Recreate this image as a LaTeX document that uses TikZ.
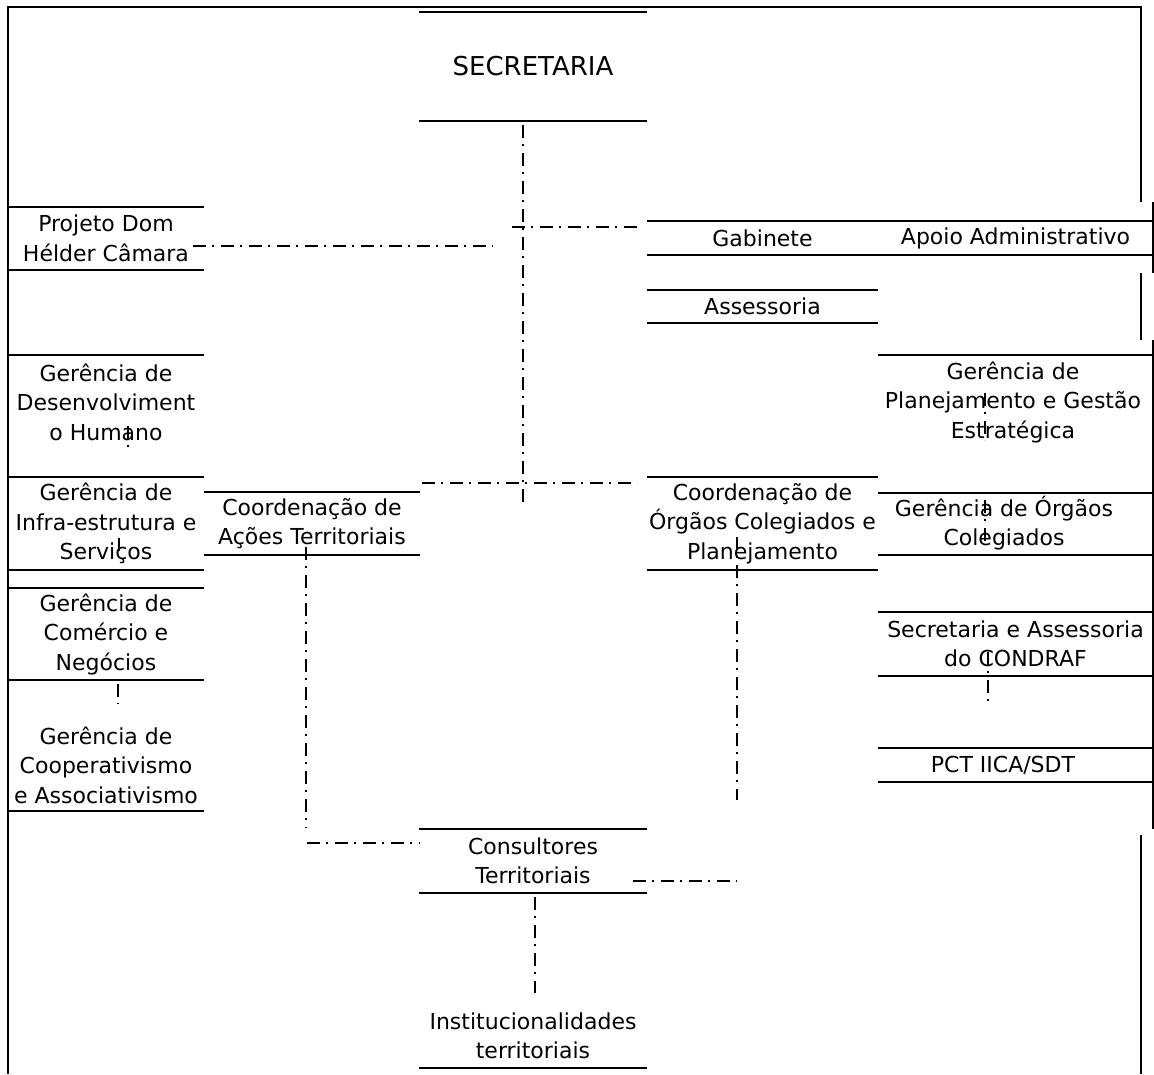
\documentclass[tikz,border=0pt]{standalone}
\usepackage{fontspec}
\setmainfont{DejaVu Sans}
\begin{document}
\begin{tikzpicture}[x=1pt,y=-1pt,
  txt/.style={font=\fontsize{22}{29.5}\selectfont, align=center, inner sep=0pt, outer sep=0pt, text=black},
  rule/.style={line width=1.1pt, black},
  ddot/.style={line width=1.2pt, black, dash pattern=on 13pt off 6pt on 2pt off 7pt},
  box/.style={txt, minimum width=#1, append after command={
     (\tikzlastnode.north west) edge[rule] (\tikzlastnode.north east)
     (\tikzlastnode.south west) edge[rule] (\tikzlastnode.south east)}},
  lowbox/.style={txt, minimum width=#1, append after command={
     (\tikzlastnode.south west) edge[rule] (\tikzlastnode.south east)}},
]
\useasboundingbox (0,0) rectangle (1154,1074);
\fill[white] (0,0) rectangle (1154,1074);

% outer frame
\draw[rule] (8,1074) -- (8,7) -- (1141,7) -- (1141,202);
\draw[rule] (1153,202) -- (1153,273);
\draw[rule] (1141,273) -- (1141,340);
\draw[rule] (1153,340) -- (1153,829);
\draw[rule] (1141,835) -- (1141,1074);

% centre column
\node[box=228pt, minimum height=109pt, font=\fontsize{26}{30}\selectfont] (sec) at (533,66.5) {SECRETARIA};
\node[box=228pt, minimum height=64pt] (ct) at (533,861) {Consultores\\Territoriais};
\node[lowbox=228pt, minimum height=64pt] (it) at (533,1036) {Institucionalidades\\territoriais};

% right inner column
\node[box=231pt, minimum height=34pt] (gab) at (762.5,238) {Gabinete};
\node[box=231pt, minimum height=33pt] (ass) at (762.5,306.5) {Assessoria};
\node[box=231pt, minimum height=93pt] (coc) at (762.5,523.5) {Coordenação de\\Órgãos Colegiados e\\Planejamento};

% right outer column
\node[box=275pt, minimum height=34pt] (apoio) at (1015.5,238) {Apoio Administrativo};
\node[box=275pt, minimum height=138pt] (pg) at (1015.5,424) {};
\node[txt] (pgT) at (1013,402) {Gerência de\\Planejamento e Gestão\\Estratégica};
\node[box=275pt, minimum height=62pt] (go) at (1015.5,524) {};
\node[txt] (goT) at (1004,523) {Gerência de Órgãos\\Colegiados};
\node[box=275pt, minimum height=64pt] (sc) at (1015.5,644) {Secretaria e Assessoria\\do CONDRAF};
\node[box=275pt, minimum height=34pt] (pct) at (1015.5,765) {};
\node[txt] (pctT) at (1003,765) {PCT IICA/SDT};

% left column
\node[box=196pt, minimum height=63pt] (proj) at (106,238.5) {Projeto Dom\\Hélder Câmara};
\node[box=196pt, minimum height=122pt] (gdh) at (106,416) {};
\node[txt] (gdhT) at (106,402) {Gerência de\\Desenvolviment\\o Humano};
\node[box=196pt, minimum height=93pt] (gis) at (106,523.5) {Gerência de\\Infra-estrutura e\\Serviços};
\node[box=196pt, minimum height=92pt] (gcn) at (106,634) {Gerência de\\Comércio e\\Negócios};
\node[lowbox=196pt, minimum height=92pt] (gca) at (106,765) {Gerência de\\Cooperativismo\\e Associativismo};
\node[box=216pt, minimum height=63pt] (cat) at (312,523.5) {Coordenação de\\Ações Territoriais};

% connector end points
\coordinate (spT) at (523,125);
\coordinate (spB) at (523,506);
\coordinate (gbL) at (512,227);
\coordinate (gbR) at (637,227);
\coordinate (pjL) at (193,246);
\coordinate (pjR) at (493,246);
\coordinate (mdL) at (422,483);
\coordinate (mdR) at (637,483);
\coordinate (caT) at (306,547);
\coordinate (caB) at (306,828);
\coordinate (ctL) at (307,843);
\coordinate (ctR) at (420,843);
\coordinate (coT) at (737,537);
\coordinate (coB) at (737,800);
\coordinate (crL) at (633,881);
\coordinate (crR) at (737,881);
\coordinate (itT) at (535,897);
\coordinate (itB) at (535,993);

\draw[ddot] (spT) -- (spB);
\draw[ddot] (gbL) -- (gbR);
\draw[ddot] (pjL) -- (pjR);
\draw[ddot] (mdL) -- (mdR);
\draw[ddot] (caT) -- (caB);
\draw[ddot] (ctL) -- (ctR);
\draw[ddot] (coT) -- (coB);
\draw[ddot] (crL) -- (crR);
\draw[ddot] (itT) -- (itB);

% small visible fragments of hidden connectors
\coordinate (t1a) at (128,426); \coordinate (t1b) at (128,452);
\coordinate (t2a) at (119,538); \coordinate (t2b) at (119,553);
\coordinate (t3a) at (118,684); \coordinate (t3b) at (118,704);
\coordinate (t4a) at (985,393); \coordinate (t4b) at (985,440);
\coordinate (t5a) at (985,500); \coordinate (t5b) at (985,546);
\coordinate (t6a) at (988,652); \coordinate (t6b) at (988,706);
\draw[ddot] (t1a) -- (t1b);
\draw[ddot] (t2a) -- (t2b);
\draw[ddot] (t3a) -- (t3b);
\draw[ddot] (t4a) -- (t4b);
\draw[ddot] (t5a) -- (t5b);
\draw[ddot] (t6a) -- (t6b);
\end{tikzpicture}
\end{document}
